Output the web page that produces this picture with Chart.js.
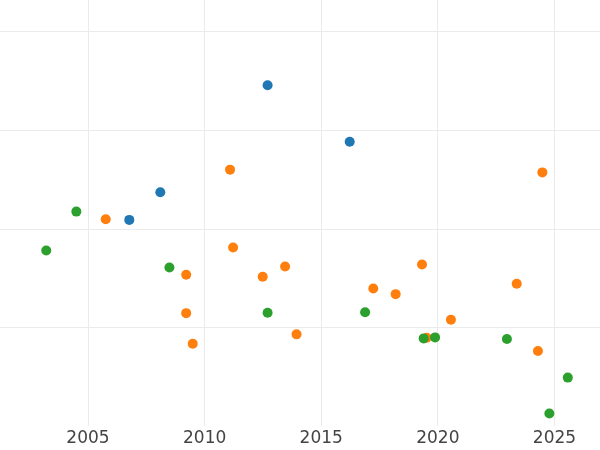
<!DOCTYPE html>
<html>
<head>
<meta charset="utf-8">
<script src="https://cdn.jsdelivr.net/npm/chart.js@4/dist/chart.umd.min.js"></script>
<style>
  html, body { margin: 0; padding: 0; background: #ffffff; }
  #wrap { width: 600px; height: 450px; }
</style>
</head>
<body>
<div id="wrap"><canvas id="c" width="600" height="450"></canvas></div>
<script>
// Series data: [year, value]
const blueX   = [2012.70, 2016.22, 2008.10, 2006.77];
const blueY   = [3.460, 2.886, 2.373, 2.093];

const orangeX = [2005.76, 2011.09, 2024.48, 2011.22, 2009.21, 2012.49, 2013.45, 2009.21, 2009.49, 2013.94, 2017.23, 2018.19, 2019.32, 2019.52, 2020.56, 2023.38, 2024.29];
const orangeY = [2.099, 2.603, 2.575, 1.813, 1.536, 1.516, 1.620, 1.147, 0.837, 0.932, 1.397, 1.340, 1.641, 0.898, 1.080, 1.445, 0.763];

const greenX  = [2004.50, 2003.21, 2008.49, 2012.70, 2016.88, 2019.39, 2019.88, 2022.96, 2025.57, 2024.78];
const greenY  = [2.177, 1.782, 1.610, 1.151, 1.157, 0.891, 0.901, 0.884, 0.493, 0.129];

const xTicks = [2005, 2010, 2015, 2020, 2025];
const yTicks = [1, 2, 3, 4];

function pts(xs, ys) { return xs.map((x, i) => ({ x: x, y: ys[i] })); }

new Chart(document.getElementById('c'), {
  type: 'scatter',
  data: {
    datasets: [
      { label: 'A', data: pts(blueX, blueY), backgroundColor: '#1f77b4', order: 2 },
      { label: 'B', data: pts(orangeX, orangeY), backgroundColor: '#ff7f0e', order: 1 },
      { label: 'C', data: pts(greenX, greenY), backgroundColor: '#2ca02c', order: 0 }
    ]
  },
  options: {
    responsive: false,
    animation: false,
    devicePixelRatio: 1,
    layout: { padding: 0, autoPadding: false },
    elements: { point: { radius: 5, borderWidth: 0, hoverRadius: 5 } },
    plugins: { legend: { display: false }, tooltip: { enabled: false } },
    scales: {
      x: {
        type: 'linear',
        min: 2001.227,
        max: 2026.951,
        afterBuildTicks: (s) => { s.ticks = xTicks.map(v => ({ value: v })); },
        border: { display: false },
        grid: { color: '#ebebeb', lineWidth: 1, drawTicks: false },
        ticks: {
          autoSkip: false, maxRotation: 0, padding: 4.4,
          color: '#444444',
          font: { family: 'DejaVu Sans', size: 17, lineHeight: 0.882 },
          callback: (v) => String(v)
        }
      },
      y: {
        type: 'linear',
        min: 0,
        max: 4.324,
        afterBuildTicks: (s) => { s.ticks = yTicks.map(v => ({ value: v })); },
        border: { display: false },
        grid: { color: '#ebebeb', lineWidth: 1, drawTicks: false },
        ticks: { display: false }
      }
    }
  }
});
</script>
</body>
</html>
